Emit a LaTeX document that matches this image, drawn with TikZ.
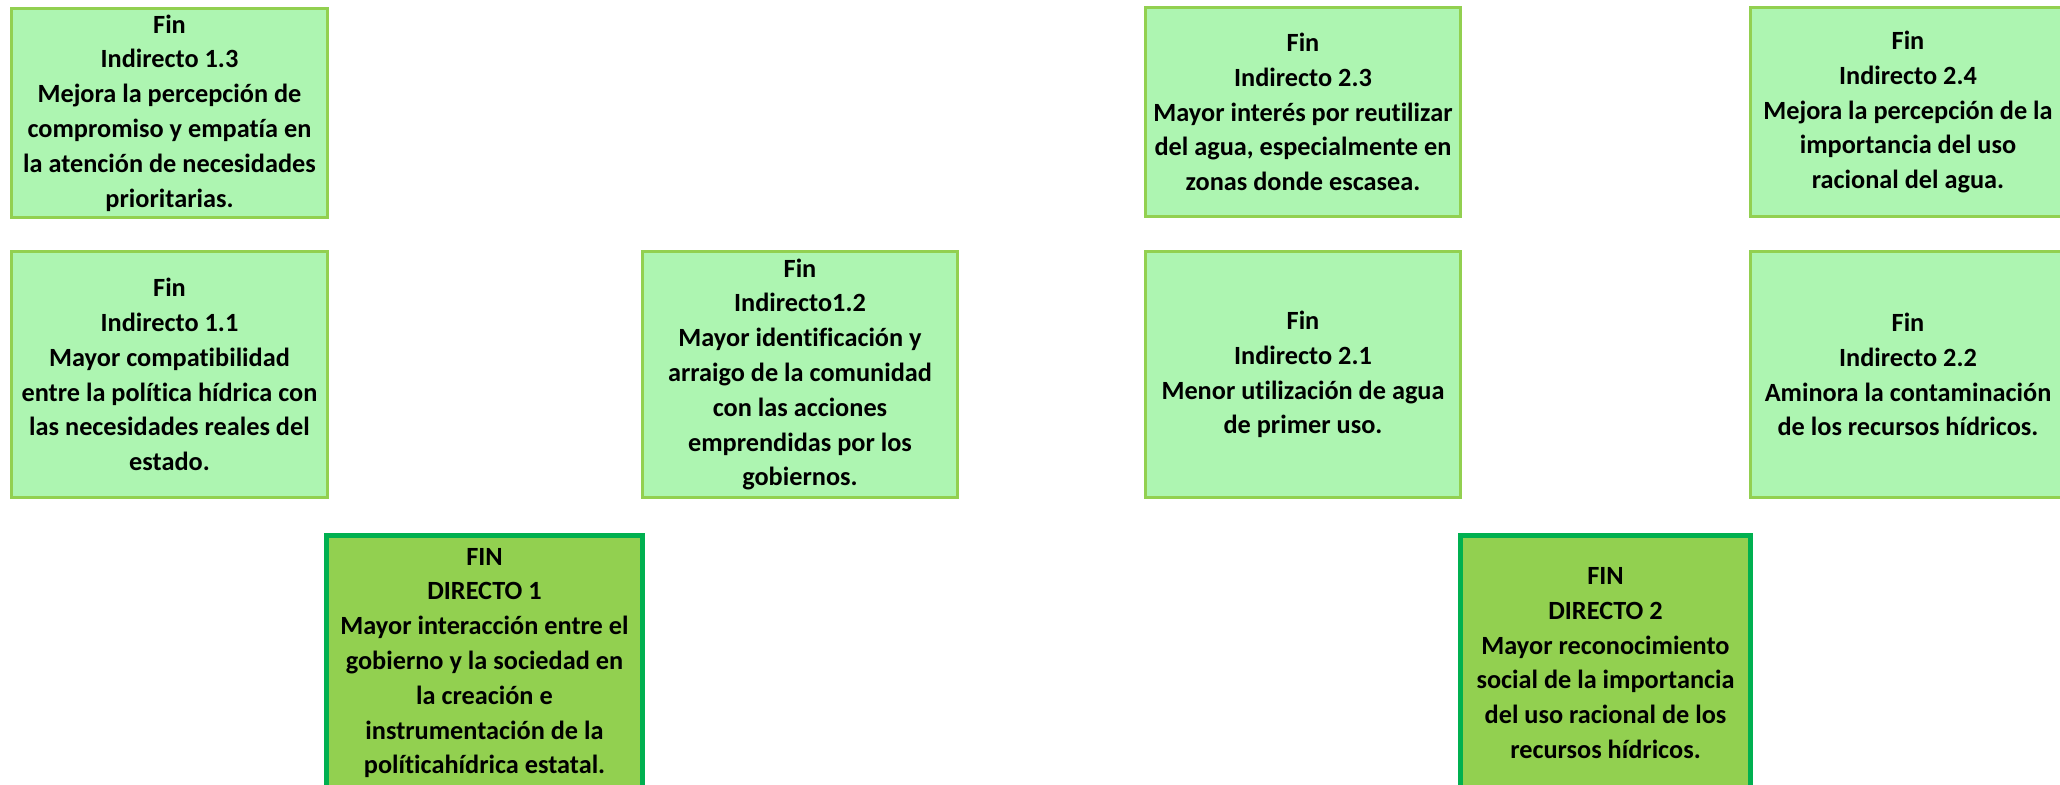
\documentclass[tikz,border=0pt]{standalone}
\usepackage{fontspec}
\setmainfont{Carlito}[Ligatures=NoCommon]
\definecolor{lfill}{RGB}{173,245,177}
\definecolor{lborder}{RGB}{146,208,80}
\definecolor{dfill}{RGB}{146,208,80}
\definecolor{dborder}{RGB}{0,176,80}
\begin{document}
\begin{tikzpicture}[x=1pt,y=1pt,
  lbox/.style={draw=lborder,fill=lfill,line width=3pt,inner sep=0pt,align=center,
    minimum width=316pt,minimum height=209pt,font=\bfseries\fontsize{26.3}{34.8}\selectfont},
  lboxtall/.style={lbox,minimum height=246pt},
  dbox/.style={draw=dborder,fill=dfill,line width=5pt,inner sep=0pt,align=center,
    minimum height=255pt,font=\bfseries\fontsize{26.3}{34.8}\selectfont}]
\useasboundingbox (0,0) rectangle (2060,-784);
\begin{scope}
\clip (0,0) rectangle (2060,-784);
\node[lbox] (n13) at (169.5,-113) {Fin\\Indirecto 1.3\\Mejora la percepción de\\compromiso y empatía en\\la atención de necesidades\\prioritarias.};
\node[lboxtall] (n11) at (169.5,-374.5) {Fin\\Indirecto 1.1\\Mayor compatibilidad\\entre la política hídrica con\\las necesidades reales del\\estado.};
\node[lboxtall,minimum width=315pt] (n12) at (800,-374.5) {Fin\\Indirecto1.2\\Mayor identificación y\\arraigo de la comunidad\\con las acciones\\emprendidas por los\\gobiernos.};
\node[lbox,minimum width=315pt] (n23) at (1303,-112) {Fin\\Indirecto 2.3\\Mayor interés por reutilizar\\del agua, especialmente en\\zonas donde escasea.};
\node[lboxtall,minimum width=315pt] (n21) at (1303,-374.5) {Fin\\Indirecto 2.1\\Menor utilización de agua\\de primer uso.};
\node[lbox,minimum width=315pt] (n24) at (1908,-112) {Fin\\Indirecto 2.4\\Mejora la percepción de la\\importancia del uso\\racional del agua.};
\node[lboxtall,minimum width=315pt] (n22) at (1908,-374.5) {Fin\\Indirecto 2.2\\Aminora la contaminación\\de los recursos hídricos.};
\node[dbox,minimum width=316pt] (d1) at (484.5,-663) {FIN\\DIRECTO 1\\Mayor interacción entre el\\gobierno y la sociedad en\\la creación e\\instrumentación de la\\políticahídrica estatal.};
\node[dbox,minimum width=290pt] (d2) at (1605.5,-663) {FIN\\DIRECTO 2\\Mayor reconocimiento\\social de la importancia\\del uso racional de los\\recursos hídricos.};
\end{scope}
\end{tikzpicture}
\end{document}
